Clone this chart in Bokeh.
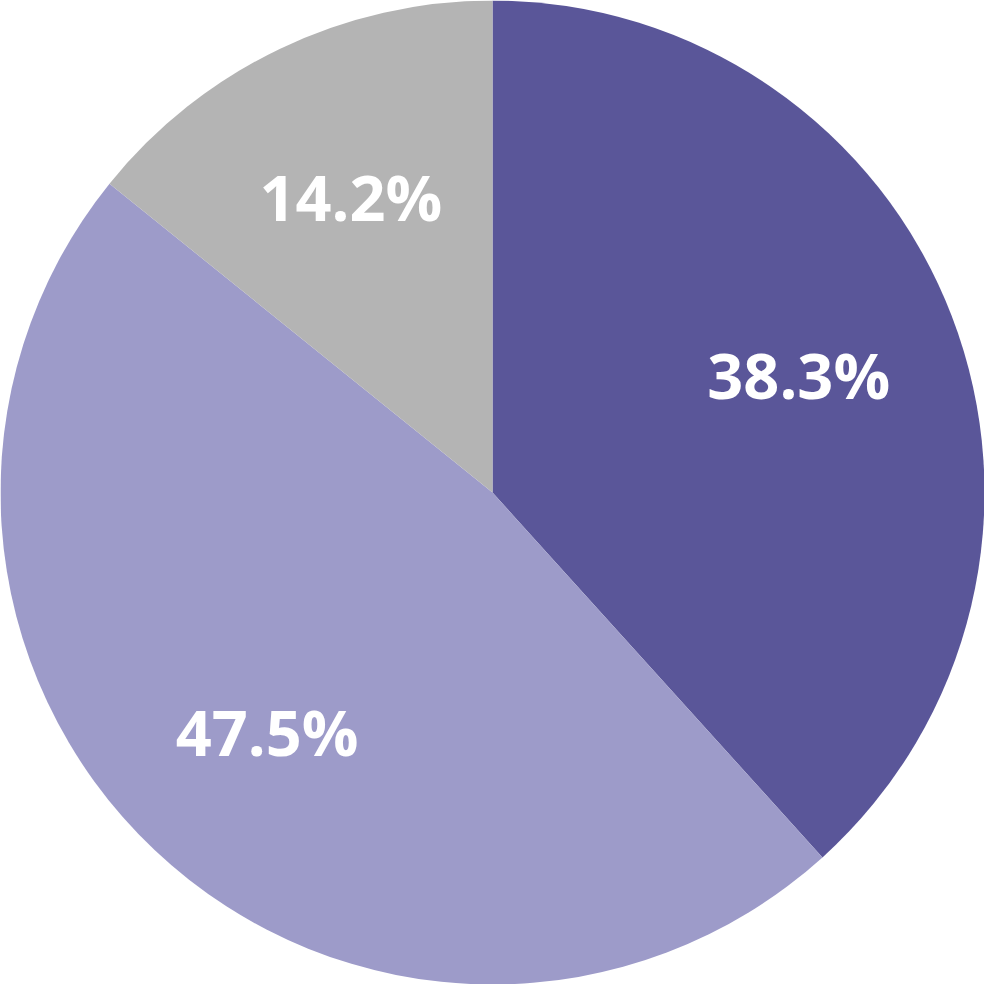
import math
from bokeh.plotting import figure
from bokeh.models import ColumnDataSource
from bokeh.core.properties import value
from bokeh.embed import file_html
from bokeh.resources import INLINE

labels = ["38.3%", "47.5%", "14.2%"]
shares = [38.3, 47.5, 14.2]
colors = ["#5a5699", "#9d9bc9", "#b4b4b4"]

total = sum(shares)
starts, ends, lx, ly = [], [], [], []
cum = 0.0
for s in shares:
    a0 = math.pi / 2 - 2 * math.pi * cum / total
    a1 = math.pi / 2 - 2 * math.pi * (cum + s) / total
    starts.append(a0)
    ends.append(a1)
    mid = (a0 + a1) / 2
    lx.append(0.667 * math.cos(mid))
    ly.append(0.667 * math.sin(mid))
    cum += s

src = ColumnDataSource(dict(start=starts, end=ends, color=colors,
                            label=labels, lx=lx, ly=ly))

p = figure(width=984, height=984, x_range=(-1, 1), y_range=(-1, 1),
           output_backend="svg", toolbar_location=None, min_border=0,
           background_fill_color="white", border_fill_color="white")
p.axis.visible = False
p.grid.visible = False
p.outline_line_color = None

p.wedge(x=0, y=0, radius=1, start_angle="start", end_angle="end",
        direction="clock", fill_color="color", line_color=None, source=src)

p.text(x="lx", y="ly", text="label", source=src, text_color="white",
       text_font=value("Open Sans"), text_font_style="bold",
       text_font_size="63px", text_align="center", text_baseline="middle")

open("out.html", "w").write(file_html(p, INLINE))
